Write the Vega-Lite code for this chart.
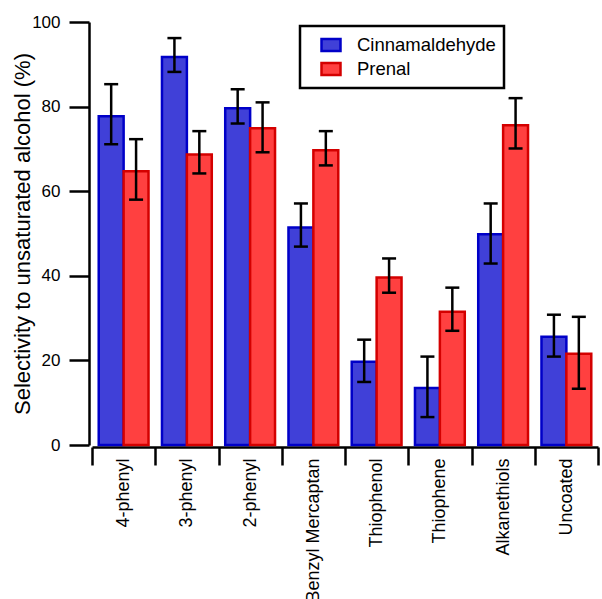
{
  "$schema": "https://vega.github.io/schema/vega-lite/v6.json",
  "width": 506,
  "height": 423,
  "autosize": {"type": "none"},
  "padding": {"left": 92, "top": 22, "right": 4, "bottom": 154},
  "background": "white",
  "data": {"values": [
    {"cat": "4-phenyl", "series": "Cinnamaldehyde", "value": 77.7, "lo": 71.1, "hi": 85.3},
    {"cat": "4-phenyl", "series": "Prenal", "value": 64.7, "lo": 58.0, "hi": 72.3},
    {"cat": "3-phenyl", "series": "Cinnamaldehyde", "value": 91.7, "lo": 88.2, "hi": 96.2},
    {"cat": "3-phenyl", "series": "Prenal", "value": 68.7, "lo": 64.2, "hi": 74.2},
    {"cat": "2-phenyl", "series": "Cinnamaldehyde", "value": 79.6, "lo": 76.0, "hi": 84.1},
    {"cat": "2-phenyl", "series": "Prenal", "value": 74.9, "lo": 69.2, "hi": 81.0},
    {"cat": "Benzyl Mercaptan", "series": "Cinnamaldehyde", "value": 51.4, "lo": 46.9, "hi": 57.1},
    {"cat": "Benzyl Mercaptan", "series": "Prenal", "value": 69.7, "lo": 66.1, "hi": 74.2},
    {"cat": "Thiophenol", "series": "Cinnamaldehyde", "value": 19.7, "lo": 14.9, "hi": 24.9},
    {"cat": "Thiophenol", "series": "Prenal", "value": 39.6, "lo": 36.0, "hi": 44.1},
    {"cat": "Thiophene", "series": "Cinnamaldehyde", "value": 13.5, "lo": 6.6, "hi": 20.9},
    {"cat": "Thiophene", "series": "Prenal", "value": 31.5, "lo": 27.0, "hi": 37.2},
    {"cat": "Alkanethiols", "series": "Cinnamaldehyde", "value": 49.8, "lo": 42.9, "hi": 57.1},
    {"cat": "Alkanethiols", "series": "Prenal", "value": 75.6, "lo": 70.1, "hi": 82.0},
    {"cat": "Uncoated", "series": "Cinnamaldehyde", "value": 25.6, "lo": 20.9, "hi": 30.8},
    {"cat": "Uncoated", "series": "Prenal", "value": 21.6, "lo": 13.3, "hi": 30.3}
  ]},
  "encoding": {
    "x": {
      "field": "cat", "type": "nominal", "sort": null,
      "scale": {"paddingInner": 0, "paddingOuter": 0},
      "axis": {
        "title": null, "tickBand": "extent", "tickSize": 18, "tickWidth": 2.5,
        "domainWidth": 2.5, "domainColor": "black", "tickColor": "black",
        "labelAngle": -90, "labelAlign": "right", "labelBaseline": "middle",
        "labelPadding": -7, "labelFontSize": 18, "offset": 2
      }
    },
    "xOffset": {"field": "series", "type": "nominal", "scale": {"paddingInner": 0, "paddingOuter": 0.27}}
  },
  "layer": [
    {
      "mark": {"type": "bar", "strokeWidth": 2.5, "opacity": 1},
      "encoding": {
        "y": {
          "field": "value", "type": "quantitative",
          "scale": {"domain": [0, 100], "nice": false},
          "axis": {
            "title": "Selectivity to unsaturated alcohol (%)", "values": [0, 20, 40, 60, 80, 100],
            "grid": false, "tickSize": 20, "tickWidth": 2.5, "domainWidth": 2.5,
            "domainColor": "black", "tickColor": "black", "labelFontSize": 17,
            "labelPadding": 9, "offset": 3, "titleFontSize": 22, "titlePadding": -3
          }
        },
        "fill": {
          "field": "series", "type": "nominal",
          "scale": {"domain": ["Cinnamaldehyde", "Prenal"], "range": ["#4040d8", "#ff4040"]},
          "legend": {"title": null}
        },
        "stroke": {
          "field": "series", "type": "nominal",
          "scale": {"domain": ["Cinnamaldehyde", "Prenal"], "range": ["#0000c8", "#d40000"]},
          "legend": {"title": null}
        }
      }
    },
    {
      "mark": {"type": "rule", "color": "black", "strokeWidth": 2.5},
      "encoding": {
        "y": {"field": "lo", "type": "quantitative"},
        "y2": {"field": "hi"}
      }
    },
    {
      "mark": {"type": "tick", "color": "black", "thickness": 2.5, "size": 14, "opacity": 1},
      "encoding": {"y": {"field": "lo", "type": "quantitative"}}
    },
    {
      "mark": {"type": "tick", "color": "black", "thickness": 2.5, "size": 14, "opacity": 1},
      "encoding": {"y": {"field": "hi", "type": "quantitative"}}
    }
  ],
  "config": {
    "font": "Liberation Sans",
    "view": {"stroke": null},
    "axis": {"labelColor": "black", "titleColor": "black", "titleFontWeight": "normal", "labelFont": "Liberation Sans", "titleFont": "Liberation Sans"},
    "legend": {
      "orient": "none", "legendX": 208, "legendY": 4,
      "strokeColor": "black", "strokeWidth": 2.5, "fillColor": "white",
      "padding": 8, "symbolOffset": 12, "labelOffset": 15,
      "symbolType": "M-1,-0.63L1,-0.63L1,0.63L-1,0.63Z", "symbolSize": 361,
      "symbolStrokeWidth": 2.5, "symbolOpacity": 1,
      "labelFontSize": 18.5, "labelColor": "black", "rowPadding": 2, "labelFont": "Liberation Sans"
    }
  }
}
